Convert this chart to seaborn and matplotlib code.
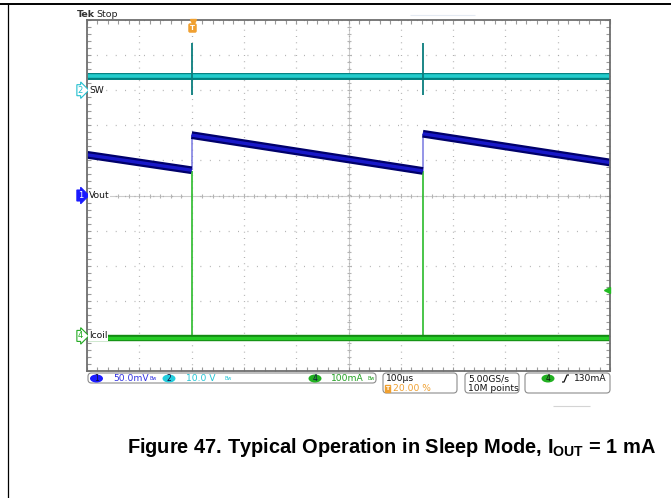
import numpy as np
import pandas as pd
import matplotlib
matplotlib.use('Agg')
import matplotlib.pyplot as plt
import seaborn as sns
from matplotlib.patches import FancyBboxPatch, Ellipse

# scope traces, time in us relative to the trigger point
vout_t = [-200, 0, 0, 442, 442, 800]
vout_mv = [58, 36, 86, 35, 88, 47]
vout_seg = [0, 0, 1, 1, 2, 2]

sw_t = [-200, 800]
sw_v = [4.0, 4.0]
sw_spike_t = [0, 442]
sw_spike_hi = [13.4, 13.4]
sw_spike_lo = [-1.4, -1.4]

icoil_t = [-200, 800]
icoil_ma = [-5, -5]
icoil_spike_t = [0, 442]
icoil_spike_ma = [470, 470]
trig_level_ma = 130

# scale per div and ground position (div) of each channel
ch1_scale, ch1_pos = 50.0, 0.0
ch2_scale, ch2_pos = 10.0, 3.0
ch4_scale, ch4_pos = 100.0, -4.0

W, H = 671, 498

sns.set_style('white')
plt.rcParams['font.family'] = ['DejaVu Sans']
plt.rcParams['text.color'] = 'black'
plt.rcParams['lines.solid_capstyle'] = 'butt'
plt.rcParams['mathtext.fontset'] = 'custom'
plt.rcParams['mathtext.bf'] = 'Liberation Sans:bold'
plt.rcParams['mathtext.rm'] = 'Liberation Sans:bold'


def to_div(vals, scale, pos):
    return np.asarray(vals, dtype=float) / scale + pos


fig = plt.figure(figsize=(W / 100, H / 100), dpi=100, facecolor='white')
ax = fig.add_axes([87 / W, 1 - 371 / H, 523 / W, 351 / H])

# graticule
ax.set_xticks(np.arange(-200, 801, 100))
ax.set_yticks(np.arange(-5, 6, 1))
ax.set_xticks(np.arange(-200, 801, 20), minor=True)
ax.set_yticks(np.arange(-5, 5.01, 0.2), minor=True)
ax.tick_params(which='both', direction='in', top=True, right=True, bottom=True, left=True,
               labelbottom=False, labelleft=False, color='#9a9a9a', length=3, width=0.8)
ax.grid(True, which='major', axis='x', color='#a8a8a8', lw=0.9, linestyle=(0, (0.7, 4.35)))
ax.grid(True, which='major', axis='y', color='#a8a8a8', lw=0.9, linestyle=(0, (0.7, 6.83)))
ax.axhline(0, color='#cccccc', lw=0.8, zorder=0.5)
ax.axvline(300, color='#cccccc', lw=0.8, zorder=0.5)
mx = np.arange(-200, 801, 20)
my = np.arange(-5, 5.01, 0.2)
ax.plot(mx, np.zeros_like(mx), ls='none', marker='|', ms=3.5, mew=0.8, color='#b4b4b4', zorder=0.6)
ax.plot(np.full_like(my, 300), my, ls='none', marker='_', ms=3.5, mew=0.8, color='#b4b4b4', zorder=0.6)
for s in ax.spines.values():
    s.set_color('#6e6e6e')
    s.set_linewidth(1.3)

# channel 4: coil current
df4 = pd.DataFrame({'t': icoil_t, 'y': to_div(icoil_ma, ch4_scale, ch4_pos)})
spk4 = pd.DataFrame({'t': np.repeat(icoil_spike_t, 2),
                     'y': to_div(np.ravel(list(zip(icoil_ma, icoil_spike_ma))), ch4_scale, ch4_pos),
                     'k': np.repeat(range(len(icoil_spike_t)), 2)})
sns.lineplot(data=spk4, x='t', y='y', units='k', estimator=None, sort=False,
             color='#3cc03c', lw=1.3, ax=ax, legend=False)
sns.lineplot(data=df4, x='t', y='y', sort=False, color='#138a13', lw=4.6, ax=ax, legend=False)
sns.lineplot(data=df4, x='t', y='y', sort=False, color='#26cc26', lw=2.4, ax=ax, legend=False)

# channel 1: output voltage ripple
df1 = pd.DataFrame({'t': vout_t, 'y': to_div(vout_mv, ch1_scale, ch1_pos), 'seg': vout_seg})
jumps = []
for i in range(1, len(df1)):
    if df1.seg[i] != df1.seg[i - 1]:
        jumps.append(df1.iloc[[i - 1, i]].assign(k=i))
jumps = pd.concat(jumps)
sns.lineplot(data=jumps, x='t', y='y', units='k', estimator=None, sort=False,
             color='#7878e0', lw=1.1, ax=ax, legend=False)
sns.lineplot(data=df1, x='t', y='y', units='seg', estimator=None, sort=False,
             color='#00006a', lw=5.6, ax=ax, legend=False)
sns.lineplot(data=df1, x='t', y='y', units='seg', estimator=None, sort=False,
             color='#1818c8', lw=2.4, ax=ax, legend=False)

# channel 2: switch node
df2 = pd.DataFrame({'t': sw_t, 'y': to_div(sw_v, ch2_scale, ch2_pos)})
sns.lineplot(data=df2, x='t', y='y', sort=False, color='#00807f', lw=5.0, ax=ax, legend=False)
sns.lineplot(data=df2, x='t', y='y', sort=False, color='#24cccc', lw=2.6, ax=ax, legend=False)
spk2 = pd.DataFrame({'t': np.repeat(sw_spike_t, 2),
                     'y': to_div(np.ravel(list(zip(sw_spike_hi, sw_spike_lo))), ch2_scale, ch2_pos),
                     'k': np.repeat(range(len(sw_spike_t)), 2)})
sns.lineplot(data=spk2, x='t', y='y', units='k', estimator=None, sort=False,
             color='#0a7d7d', lw=1.3, ax=ax, legend=False)

ax.set_xlim(-200, 800)
ax.set_ylim(-5, 5)
ax.set_xlabel('')
ax.set_ylabel('')

# overlay in pixel units for the scope annotations and the page
ov = fig.add_axes([0, 0, 1, 1], zorder=5)
ov.set_xlim(0, W)
ov.set_ylim(H, 0)
ov.axis('off')


def ypix(div):
    return 195.5 - div * 35.1


fs = 6.6
ov.plot([0, W], [3.5, 3.5], color='black', lw=1.4)
ov.plot([7.5, 7.5], [3.5, H], color='black', lw=0.9)
ov.plot([410, 475], [15, 15], color='#e4eaf2', lw=0.8)

ov.text(77, 14, 'Tek', fontsize=6.8, fontweight='bold', color='#333333', va='center')
ov.text(96, 14, 'Stop', fontsize=6.8, color='#222222', va='center')

# trigger position marker
ov.plot(192.5, 21.5, marker='v', ms=4, color='#f0a030', ls='none')
ov.text(192.5, 28, 'T', fontsize=5, fontweight='bold', color='white', ha='center', va='center',
        bbox=dict(boxstyle='round,pad=0.15', fc='#f0a030', ec='#f0a030'))
# trigger level marker
ov.plot(607, ypix(ch4_pos + trig_level_ma / ch4_scale), marker='<', ms=4, color='#22bb22', ls='none')

# channel ground markers
marks = [('2', 'SW', ch2_pos, '#22bfcf', 'white', '#22bfcf'),
         ('1', 'Vout', ch1_pos, '#1a1aff', '#1a1aff', 'white'),
         ('4', 'Icoil', ch4_pos, '#22aa22', 'white', '#22aa22')]
for num, name, pos, ec, fc, tc in marks:
    y = ypix(pos)
    ov.text(80.5, y, num, fontsize=6, color=tc, ha='center', va='center',
            bbox=dict(boxstyle='rarrow,pad=0.12', fc=fc, ec=ec, lw=0.8))
    ov.text(89, y, name, fontsize=fs, color='#111111', ha='left', va='center',
            bbox=dict(fc='white', ec='none', pad=0.6))

# status bar
box_kw = dict(boxstyle='round,pad=0,rounding_size=3.5', fc='white', ec='#8c8c8c', lw=0.8)
ov.add_patch(FancyBboxPatch((88, 373), 288, 10, **box_kw))
ov.add_patch(FancyBboxPatch((383, 373), 74, 20, **box_kw))
ov.add_patch(FancyBboxPatch((465, 373), 54, 20, **box_kw))
ov.add_patch(FancyBboxPatch((525, 373), 85, 20, **box_kw))

chans = [(96.5, '1', '#1a1aff', 113, '50.0mV', '#3030e0', 153),
         (169, '2', '#22ccdd', 186, '10.0 V', '#22c4d4', 228),
         (315, '4', '#22b022', 331, '100mA', '#22a022', 371)]
for cx, num, col, tx, txt, tcol, bx in chans:
    ov.add_patch(Ellipse((cx, 378.5), 13, 8, fc=col, ec='none'))
    ov.text(cx, 378.7, num, fontsize=5.5, color='#101040', ha='center', va='center')
    ov.text(tx, 378.5, txt, fontsize=fs, color=tcol, ha='left', va='center')
    ov.text(bx, 378, 'Bw', fontsize=3.5, color=tcol, ha='center', va='center')

ov.text(386, 378.5, '100\u00b5s', fontsize=fs, color='#111111', ha='left', va='center')
ov.text(387.5, 388.5, 'T', fontsize=4.5, fontweight='bold', color='white', ha='center', va='center',
        bbox=dict(boxstyle='square,pad=0.12', fc='#f0a030', ec='#f0a030'))
ov.text(393, 388.5, '20.00 %', fontsize=fs, color='#f0a030', ha='left', va='center')
ov.text(468, 378.5, '5.00GS/s', fontsize=fs, color='#111111', ha='left', va='center')
ov.text(468, 388.5, '10M points', fontsize=fs, color='#111111', ha='left', va='center')
ov.add_patch(Ellipse((548, 378.5), 13, 8, fc='#22b022', ec='none'))
ov.text(548, 378.7, '4', fontsize=5.5, color='#101010', ha='center', va='center')
ov.plot([562, 564, 567, 569], [382, 382, 375, 375], color='#111111', lw=0.9)
ov.text(607, 378.5, '130mA', fontsize=fs, color='#111111', ha='right', va='center')

ov.plot([553, 590], [406, 406], color='#d4d4d4', lw=0.8)

ov.text(391.5, 453, r'Figure 47. Typical Operation in Sleep Mode, $\mathbf{I_{OUT}}$ = 1 mA',
        fontsize=14.4, fontweight='bold', family='Liberation Sans', color='black',
        ha='center', va='baseline')

fig.savefig('out.png', dpi=100, facecolor='white')
